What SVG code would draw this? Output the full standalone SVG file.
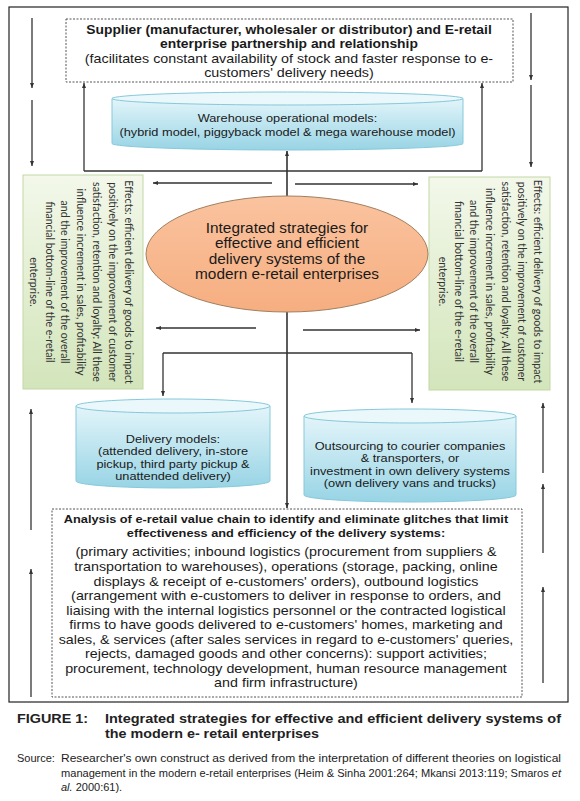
<svg xmlns="http://www.w3.org/2000/svg" width="580" height="801" viewBox="0 0 580 801">
<defs>
<style>
.frame{fill:none;stroke:#222;stroke-width:1.2}
.dash{fill:#fff;stroke:#555;stroke-width:1;stroke-dasharray:2 1.5}
.con{fill:none;stroke:#333;stroke-width:1.3}
.cyl{fill:url(#gc);stroke:#86c9da;stroke-width:1}
.cyltop{fill:#eaf7fb;stroke:#86c9da;stroke-width:1}
.grn{fill:url(#gg);stroke:#c3d7a6;stroke-width:1}
.t{font-family:"Liberation Sans",Arial,sans-serif;fill:#1a1a1a;text-anchor:middle}
.b{font-weight:bold}
.rot{font-family:Lato,"Open Sans",sans-serif;fill:#333;text-anchor:middle;font-size:10.6px}
.cap{font-family:"Liberation Sans",Arial,sans-serif;fill:#222}
</style>
<linearGradient id="gc" x1="0" y1="0" x2="0" y2="1">
<stop offset="0" stop-color="#e3f5fa"/>
<stop offset="1" stop-color="#98d4e5"/>
</linearGradient>
<linearGradient id="gg" x1="0" y1="0" x2="0" y2="1">
<stop offset="0" stop-color="#f3f8ea"/>
<stop offset="1" stop-color="#d3e5bb"/>
</linearGradient>
<linearGradient id="ge" x1="0" y1="0" x2="0" y2="1">
<stop offset="0" stop-color="#fac39f"/>
<stop offset="1" stop-color="#f6ae80"/>
</linearGradient>
<marker id="ah" viewBox="0 0 10 10" refX="10" refY="5" markerWidth="5" markerHeight="5" markerUnits="userSpaceOnUse" orient="auto">
<path d="M0,1 L10,5 L0,9 z" fill="#333"/>
</marker>
</defs>

<rect class="frame" x="9" y="7" width="559" height="695"/>

<g id="connectors">
<line class="con" x1="32" y1="18" x2="32" y2="88" marker-end="url(#ah)"/>
<line class="con" x1="32" y1="100" x2="32" y2="166" marker-end="url(#ah)"/>
<line class="con" x1="531" y1="13" x2="531" y2="80" marker-end="url(#ah)"/>
<line class="con" x1="531" y1="85" x2="531" y2="167" marker-end="url(#ah)"/>
<line class="con" x1="31" y1="530" x2="31" y2="409" marker-end="url(#ah)"/>
<line class="con" x1="31" y1="697" x2="31" y2="569" marker-end="url(#ah)"/>
<line class="con" x1="543" y1="473" x2="543" y2="403" marker-end="url(#ah)"/>
<line class="con" x1="543" y1="553" x2="543" y2="484" marker-end="url(#ah)"/>
<line class="con" x1="543" y1="683" x2="543" y2="587" marker-end="url(#ah)"/>
<path class="con" d="M84,171 H482"/>
<line class="con" x1="84" y1="171" x2="84" y2="83" marker-end="url(#ah)"/>
<line class="con" x1="482" y1="171" x2="482" y2="83" marker-end="url(#ah)"/>
<line class="con" x1="287" y1="240" x2="287" y2="151" marker-end="url(#ah)" style="stroke-width:1.6"/>
<line class="con" x1="287" y1="300" x2="287" y2="508" marker-end="url(#ah)" style="stroke-width:1.6"/>
<line class="con" x1="272" y1="183" x2="153" y2="183" marker-end="url(#ah)"/>
<line class="con" x1="295" y1="184" x2="418" y2="184" marker-end="url(#ah)"/>
<line class="con" x1="256" y1="328" x2="156" y2="328" marker-end="url(#ah)"/>
<line class="con" x1="303" y1="330" x2="420" y2="330" marker-end="url(#ah)"/>
<path class="con" d="M163,353 H412"/>
<line class="con" x1="163" y1="353" x2="163" y2="396" marker-end="url(#ah)"/>
<line class="con" x1="412" y1="353" x2="412" y2="403" marker-end="url(#ah)"/>
</g>

<g id="supplier">
<rect class="dash" x="66" y="19" width="447" height="63"/>
<text class="t b" x="289" y="34" font-size="12.6" transform="matrix(1.1 0 0 1 -28.9 0)">Supplier (manufacturer, wholesaler or distributor) and E-retail</text>
<text class="t b" x="289" y="48" font-size="12.6" transform="matrix(1.1 0 0 1 -28.9 0)">enterprise partnership and relationship</text>
<text class="t" x="289" y="63" font-size="13" transform="matrix(1.1 0 0 1 -28.9 0)">(facilitates constant availability of stock and faster response to e-</text>
<text class="t" x="289" y="77" font-size="13" transform="matrix(1.1 0 0 1 -28.9 0)">customers' delivery needs)</text>
</g>

<g id="warehouse">
<path class="cyl" d="M112,98.5 V143.5 A175.5,6.5 0 0 0 463,143.5 V98.5 Z"/>
<ellipse class="cyltop" cx="287.5" cy="98.5" rx="175.5" ry="6.5"/>
<text class="t" x="287.5" y="122" font-size="11.6" transform="matrix(1.1 0 0 1 -28.75 0)">Warehouse operational models:</text>
<text class="t" x="287.5" y="136.5" font-size="11.6" transform="matrix(1.1 0 0 1 -28.75 0)">(hybrid model, piggyback model &amp; mega warehouse model)</text>
</g>

<g id="effects-left">
<rect class="grn" x="23" y="175" width="120" height="214"/>
<g transform="translate(124.5,282) rotate(90)">
<text class="rot" x="0" y="0">Effects: efficient delivery of goods to impact</text>
<text class="rot" x="0" y="15.8">positively on the improvement of customer</text>
<text class="rot" x="0" y="31.6">satisfaction, retention and loyalty: All these</text>
<text class="rot" x="0" y="47.4">influence increment in sales, profitability</text>
<text class="rot" x="0" y="63.2">and the improvement of the overall</text>
<text class="rot" x="0" y="79">financial bottom-line of the e-retail</text>
<text class="rot" x="0" y="94.8">enterprise.</text>
</g>
</g>

<g id="effects-right">
<rect class="grn" x="429" y="177" width="121" height="213"/>
<g transform="translate(533.5,281.5) rotate(90)">
<text class="rot" x="0" y="0">Effects: efficient delivery of goods to impact</text>
<text class="rot" x="0" y="15.8">positively on the improvement of customer</text>
<text class="rot" x="0" y="31.6">satisfaction, retention and loyalty: All these</text>
<text class="rot" x="0" y="47.4">influence increment in sales, profitability</text>
<text class="rot" x="0" y="63.2">and the improvement of the overall</text>
<text class="rot" x="0" y="79">financial bottom-line of the e-retail</text>
<text class="rot" x="0" y="94.8">enterprise.</text>
</g>
</g>

<g id="strategies">
<ellipse cx="287" cy="254" rx="141" ry="58" fill="url(#ge)" stroke="#a0805f" stroke-width="1"/>
<text class="t" x="287" y="233" font-size="14" transform="matrix(1.1 0 0 1 -28.7 0)">Integrated strategies for</text>
<text class="t" x="287" y="248.5" font-size="14" transform="matrix(1.1 0 0 1 -28.7 0)">effective and efficient</text>
<text class="t" x="287" y="264" font-size="14" transform="matrix(1.1 0 0 1 -28.7 0)">delivery systems of the</text>
<text class="t" x="287" y="279.5" font-size="14" transform="matrix(1.1 0 0 1 -28.7 0)">modern e-retail enterprises</text>
</g>

<g id="delivery-models">
<path class="cyl" d="M76,406 V481 A97,7 0 0 0 270,481 V406 Z"/>
<ellipse class="cyltop" cx="173" cy="406" rx="97" ry="7"/>
<text class="t" x="173" y="443" font-size="11.6" transform="matrix(1.1 0 0 1 -17.3 0)">Delivery models:</text>
<text class="t" x="173" y="455.5" font-size="11.6" transform="matrix(1.1 0 0 1 -17.3 0)">(attended delivery, in-store</text>
<text class="t" x="173" y="468" font-size="11.6" transform="matrix(1.1 0 0 1 -17.3 0)">pickup, third party pickup &amp;</text>
<text class="t" x="173" y="480.5" font-size="11.6" transform="matrix(1.1 0 0 1 -17.3 0)">unattended delivery)</text>
</g>

<g id="outsourcing">
<path class="cyl" d="M304,416 V495 A106,7 0 0 0 516,495 V416 Z"/>
<ellipse class="cyltop" cx="410" cy="416" rx="106" ry="7"/>
<text class="t" x="410" y="450" font-size="11.6" transform="matrix(1.1 0 0 1 -41 0)">Outsourcing to courier companies</text>
<text class="t" x="410" y="462.5" font-size="11.6" transform="matrix(1.1 0 0 1 -41 0)">&amp; transporters, or</text>
<text class="t" x="410" y="475" font-size="11.6" transform="matrix(1.1 0 0 1 -41 0)">investment in own delivery systems</text>
<text class="t" x="410" y="487.5" font-size="11.6" transform="matrix(1.1 0 0 1 -41 0)">(own delivery vans and trucks)</text>
</g>

<g id="analysis">
<rect class="dash" x="52" y="509" width="470" height="188"/>
<g transform="matrix(1.1 0 0 1 -28.6 0)">
<text class="t b" x="286" y="523" font-size="11.6">Analysis of e-retail value chain to identify and eliminate glitches that limit</text>
<text class="t b" x="286" y="537" font-size="11.6">effectiveness and efficiency of the delivery systems:</text>
<text class="t" x="286" y="556.5" font-size="13">(primary activities; inbound logistics (procurement from suppliers &amp;</text>
<text class="t" x="286" y="571" font-size="13">transportation to warehouses), operations (storage, packing, online</text>
<text class="t" x="286" y="585.6" font-size="13">displays &amp; receipt of e-customers' orders), outbound logistics</text>
<text class="t" x="286" y="600.2" font-size="13">(arrangement with e-customers to deliver in response to orders, and</text>
<text class="t" x="286" y="614.7" font-size="13">liaising with the internal logistics personnel or the contracted logistical</text>
<text class="t" x="286" y="629.3" font-size="13">firms to have goods delivered to e-customers' homes, marketing and</text>
<text class="t" x="286" y="643.8" font-size="13">sales, &amp; services (after sales services in regard to e-customers' queries,</text>
<text class="t" x="286" y="658.4" font-size="13">rejects, damaged goods and other concerns): support activities;</text>
<text class="t" x="286" y="672.9" font-size="13">procurement, technology development, human resource management</text>
<text class="t" x="286" y="687.5" font-size="13">and firm infrastructure)</text>
</g>
</g>

<g id="caption">
<text class="cap b" x="17" y="723" font-size="13.4" textLength="71" lengthAdjust="spacingAndGlyphs">FIGURE 1:</text>
<text class="cap b" x="105" y="723" font-size="13.4" textLength="456" lengthAdjust="spacingAndGlyphs">Integrated strategies for effective and efficient delivery systems of</text>
<text class="cap b" x="105" y="738" font-size="13.4" textLength="214" lengthAdjust="spacingAndGlyphs">the modern e- retail enterprises</text>
<text class="cap" x="17" y="762" font-size="11" fill="#333">Source:</text>
<text class="cap" x="61" y="762" font-size="11" fill="#333" textLength="500" lengthAdjust="spacingAndGlyphs">Researcher's own construct as derived from the interpretation of different theories on logistical</text>
<text class="cap" x="61" y="777" font-size="11" fill="#333" textLength="500" lengthAdjust="spacingAndGlyphs">management in the modern e-retail enterprises (Heim &amp; Sinha 2001:264; Mkansi 2013:119; Smaros <tspan font-style="italic">et</tspan></text>
<text class="cap" x="61" y="791" font-size="11" fill="#333"><tspan font-style="italic">al.</tspan> 2000:61).</text>
</g>
</svg>
